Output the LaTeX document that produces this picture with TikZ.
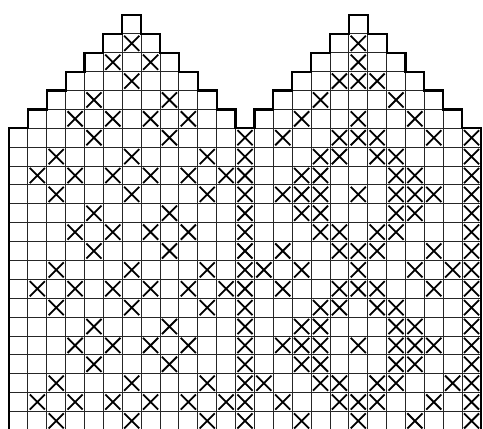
\documentclass[tikz,border=0pt]{standalone}
\begin{document}
\begin{tikzpicture}[x=18.88pt,y=-18.88pt,
  gridline/.style={line width=0.9pt, draw=black!85},
  outline/.style={line width=2.2pt, draw=black, line join=miter},
  cross/.style={line width=1.8pt, draw=black}]
\useasboundingbox (-0.4767,-0.7945) rectangle (25.106,21.928);
\clip (-0.4767,-0.7945) rectangle (25.106,21.928);
\fill[white] (-0.4767,-0.7945) rectangle (25.106,21.928);
% triangle rows
\foreach \r in {0,...,5}{
  \pgfmathtruncatemacro\a{6-\r}
  \pgfmathtruncatemacro\b{6+\r}
  \foreach \c in {\a,...,\b}{
    \draw[gridline] (\c,\r) rectangle ++(1,1);
    \draw[gridline] ({\c+12},\r) rectangle ++(1,1);
  }
}
% body rows
\foreach \r in {6,...,22}{
  \draw[gridline] (0,\r) -- (25,\r);
}
\foreach \c in {0,...,25}{
  \draw[gridline] (\c,6) -- (\c,23);
}
% crosses
\foreach \r/\cols in {
  1/{6,18},
  2/{5,7,18},
  3/{6,17,18,19},
  4/{4,8,16,20},
  5/{3,5,7,9,15,18,21},
  6/{4,8,12,14,17,18,19,22,24},
  7/{2,6,10,12,16,17,19,20,24},
  8/{1,3,5,7,9,11,12,15,16,20,21,24},
  9/{2,6,10,12,14,15,16,18,20,21,22,24},
  10/{4,8,12,15,16,20,21,24},
  11/{3,5,7,9,12,16,17,19,20,24},
  12/{4,8,12,14,17,18,19,22,24},
  13/{2,6,10,12,13,15,18,21,23,24},
  14/{1,3,5,7,9,11,12,14,17,18,19,22,24},
  15/{2,6,10,12,16,17,19,20,24},
  16/{4,8,12,15,16,20,21,24},
  17/{3,5,7,9,12,14,15,16,18,20,21,22,24},
  18/{4,8,12,15,16,20,21,24},
  19/{2,6,10,12,13,16,17,19,20,23,24},
  20/{1,3,5,7,9,11,12,14,17,18,19,22,24},
  21/{2,6,10,12,15,18,21,24}}{
  \foreach \c in \cols {
    \draw[cross] ({\c+0.1},{\r+0.1}) -- ({\c+0.9},{\r+0.9})
                 ({\c+0.9},{\r+0.1}) -- ({\c+0.1},{\r+0.9});
  }
}
% thick outline
\draw[outline] (0,23) -- (0,6) -- (1,6) -- (1,5) -- (2,5) -- (2,4) -- (3,4) -- (3,3)
  -- (4,3) -- (4,2) -- (5,2) -- (5,1) -- (6,1) -- (6,0) -- (7,0) -- (7,1) -- (8,1)
  -- (8,2) -- (9,2) -- (9,3) -- (10,3) -- (10,4) -- (11,4) -- (11,5) -- (12,5)
  -- (12,6) -- (13,6) -- (13,5) -- (14,5) -- (14,4) -- (15,4) -- (15,3) -- (16,3)
  -- (16,2) -- (17,2) -- (17,1) -- (18,1) -- (18,0) -- (19,0) -- (19,1) -- (20,1)
  -- (20,2) -- (21,2) -- (21,3) -- (22,3) -- (22,4) -- (23,4) -- (23,5) -- (24,5)
  -- (24,6) -- (25,6) -- (25,23);
\end{tikzpicture}
\end{document}
